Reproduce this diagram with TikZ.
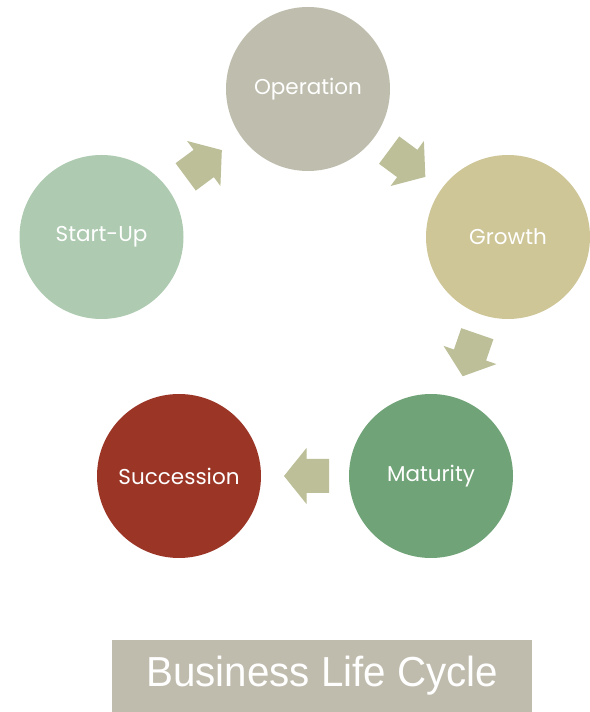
\documentclass[tikz,border=0pt]{standalone}
\usepackage{fontspec}
\setmainfont{Poppins}
\newfontfamily\titlefont[FakeStretch=0.96]{Liberation Sans}
\definecolor{cOp}{HTML}{BFBEAE}
\definecolor{cStart}{HTML}{AECBB1}
\definecolor{cGrowth}{HTML}{CFC698}
\definecolor{cMat}{HTML}{70A377}
\definecolor{cSucc}{HTML}{9B3627}
\definecolor{cArrow}{HTML}{BCBF97}
\definecolor{cTitle}{HTML}{BFBCAD}
\tikzset{
  stage/.style={circle, minimum size=164pt, inner sep=0pt, text=white, font=\fontsize{21.5}{24}\selectfont},
  blockarrow/.style={fill=cArrow, draw=none}
}
\newcommand{\blkarrow}[3]{%
  \fill[blockarrow, shift={(#1,#2)}, rotate=#3]
    (-22.5,-17) -- (0,-17) -- (0,-28) -- (22.5,0) -- (0,28) -- (0,17) -- (-22.5,17) -- cycle;}
\begin{document}
\begin{tikzpicture}[x=1pt,y=1pt]
\useasboundingbox (0,0) rectangle (589,712);
\node[stage, fill=cOp] (op) at (308,623) {Operation};
\node[stage, fill=cStart] (start) at (101.5,475) {Start-Up};
\node[stage, fill=cGrowth] (growth) at (508,475) {Growth};
\node[stage, fill=cMat] (mat) at (431,236) {Maturity};
\node[stage, fill=cSucc] (succ) at (179,236) {Succession};
\blkarrow{203.75}{548.5}{36.5}
\blkarrow{407.25}{548.5}{-36.5}
\blkarrow{470}{357}{251}
\blkarrow{306.5}{236}{180}
\node[fill=cTitle, minimum width=420pt, minimum height=72pt, inner sep=0pt, anchor=south west, text=white, font=\titlefont\fontsize{42}{46}\selectfont] (title) at (112,0) {Business Life Cycle};
\end{tikzpicture}
\end{document}
